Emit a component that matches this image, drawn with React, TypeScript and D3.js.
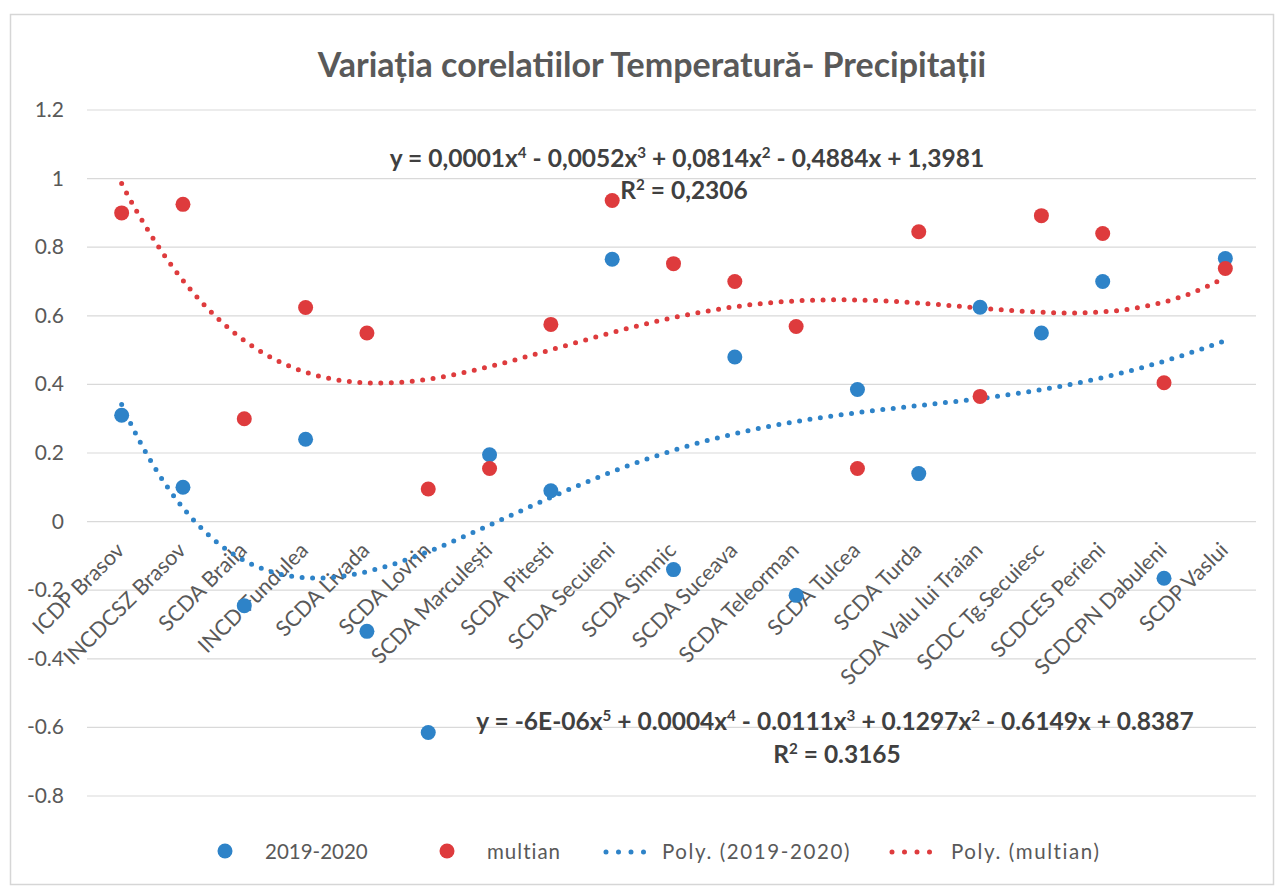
import React, { useEffect, useRef } from "react";
import * as d3 from "d3";

const categories = [
  "ICDP Brasov", "INCDCSZ Brasov", "SCDA Braila", "INCD Fundulea", "SCDA Livada",
  "SCDA Lovrin", "SCDA Marculești", "SCDA Pitesti", "SCDA Secuieni", "SCDA Simnic",
  "SCDA Suceava", "SCDA Teleorman", "SCDA Tulcea", "SCDA Turda", "SCDA Valu lui Traian",
  "SCDC Tg.Secuiesc", "SCDCES Perieni", "SCDCPN Dabuleni", "SCDP Vaslui",
];
const values2019 = [
  0.31, 0.1, -0.245, 0.24, -0.32, -0.615, 0.195, 0.09, 0.765, -0.14,
  0.48, -0.215, 0.385, 0.14, 0.625, 0.55, 0.7, -0.165, 0.767,
];
const valuesMultian = [
  0.9, 0.925, 0.3, 0.624, 0.55, 0.095, 0.155, 0.575, 0.936, 0.752,
  0.7, 0.569, 0.155, 0.845, 0.365, 0.892, 0.84, 0.405, 0.738,
];
const yTicks = [1.2, 1, 0.8, 0.6, 0.4, 0.2, 0, -0.2, -0.4, -0.6, -0.8];
const title = "Variația corelatiilor Temperatură- Precipitații";
const eqMultian = "y = 0,0001x^4 - 0,0052x^3 + 0,0814x^2 - 0,4884x + 1,3981";
const r2Multian = "R^2 = 0,2306";
const eq2019 = "y = -6E-06x^5 + 0.0004x^4 - 0.0111x^3 + 0.1297x^2 - 0.6149x + 0.8387";
const r2_2019 = "R^2 = 0.3165";
const legendLabels = ["2019-2020", "multian", "Poly. (2019-2020)", "Poly. (multian)"];

const BLUE = "#2e83c8";
const RED = "#de3b3d";
const FONT = "Lato, 'Open Sans', sans-serif";

// least squares polynomial fit, like Excel's trendline
function polyFit(xs: number[], ys: number[], deg: number) {
  const n = deg + 1;
  const A: number[][] = [];
  for (let r = 0; r < n; r++) {
    const row: number[] = [];
    for (let c = 0; c < n; c++) row.push(d3.sum(xs, (x) => Math.pow(x, r + c)));
    row.push(d3.sum(xs, (x, i) => Math.pow(x, r) * ys[i]));
    A.push(row);
  }
  for (let i = 0; i < n; i++) {
    let p = i;
    for (let k = i + 1; k < n; k++) if (Math.abs(A[k][i]) > Math.abs(A[p][i])) p = k;
    [A[i], A[p]] = [A[p], A[i]];
    for (let k = i + 1; k < n; k++) {
      const f = A[k][i] / A[i][i];
      for (let c = i; c <= n; c++) A[k][c] -= f * A[i][c];
    }
  }
  const coef = new Array(n).fill(0);
  for (let i = n - 1; i >= 0; i--) {
    let s = A[i][n];
    for (let c = i + 1; c < n; c++) s -= A[i][c] * coef[c];
    coef[i] = s / A[i][i];
  }
  return (x: number) => coef.reduce((acc, c, i) => acc + c * Math.pow(x, i), 0);
}

// text with ^n superscripts
function superText(sel: any, str: string) {
  const parts = str.split(/\^(\d)/);
  parts.forEach((p, i) => {
    if (i % 2 === 1) {
      sel.append("tspan").attr("dy", -9).attr("font-size", "0.62em").text(p);
    } else if (p) {
      sel.append("tspan").attr("dy", i > 0 ? 9 : 0).text(p);
    }
  });
}

function App() {
  const svgRef = useRef(null);
  const [width, height] = [1276, 891];
  const margin = { top: 110, right: 20, bottom: 95, left: 91 };

  useEffect(() => {
    const svg = d3.select(svgRef.current);
    svg.selectAll("*").remove();

    const x = d3
      .scaleBand()
      .domain(categories)
      .range([margin.left, width - margin.right]);
    const cx = (c: string) => (x(c) as number) + x.bandwidth() / 2;
    const y = d3.scaleLinear().domain([-0.8, 1.2]).range([height - margin.bottom, margin.top]);

    // chart frame
    svg
      .append("rect")
      .attr("x", 10.5)
      .attr("y", 14.5)
      .attr("width", 1263)
      .attr("height", 870)
      .attr("fill", "#fff")
      .attr("stroke", "#d6d6d6")
      .attr("stroke-width", 1.5);

    // gridlines
    svg
      .append("g")
      .selectAll("line")
      .data(yTicks)
      .join("line")
      .attr("x1", margin.left - 4)
      .attr("x2", width - margin.right)
      .attr("y1", (d) => y(d))
      .attr("y2", (d) => y(d))
      .attr("stroke", "#d9d9d9")
      .attr("stroke-width", 1.2);

    svg
      .append("g")
      .selectAll("text")
      .data(yTicks)
      .join("text")
      .attr("x", 64)
      .attr("y", (d) => y(d) + 7)
      .attr("text-anchor", "end")
      .attr("font-family", FONT)
      .attr("font-size", 21)
      .attr("fill", "#595959")
      .text((d) => String(d));

    // category labels along the zero line
    svg
      .append("g")
      .selectAll("text")
      .data(categories)
      .join("text")
      .attr("transform", (d) => `translate(${cx(d) + 4},${y(0) + 30}) rotate(-45)`)
      .attr("text-anchor", "end")
      .attr("font-family", FONT)
      .attr("font-size", 21.5)
      .attr("fill", "#595959")
      .text((d) => d);

    // trendlines
    const xs = categories.map((_, i) => i + 1);
    const xLin = d3
      .scaleLinear()
      .domain([1, categories.length])
      .range([cx(categories[0]), cx(categories[categories.length - 1])]);
    const samples = d3.range(1, categories.length + 0.001, 0.05);
    const trends = [
      { f: polyFit(xs, values2019, 5), color: BLUE },
      { f: polyFit(xs, valuesMultian, 4), color: RED },
    ];
    const line = d3
      .line<number>()
      .x((t) => xLin(t))
      .y((t) => y(t));
    trends.forEach((t) => {
      svg
        .append("path")
        .attr("d", line.y((s) => y(t.f(s)))(samples))
        .attr("fill", "none")
        .attr("stroke", t.color)
        .attr("stroke-width", 5)
        .attr("stroke-linecap", "round")
        .attr("stroke-dasharray", "0 10.5");
    });

    // points
    const series = [
      { values: values2019, color: BLUE },
      { values: valuesMultian, color: RED },
    ];
    series.forEach((s) => {
      svg
        .append("g")
        .selectAll("circle")
        .data(s.values)
        .join("circle")
        .attr("cx", (_, i) => cx(categories[i]))
        .attr("cy", (d) => y(d))
        .attr("r", 7.5)
        .attr("fill", s.color);
    });

    // title
    svg
      .append("text")
      .attr("x", 652)
      .attr("y", 77)
      .attr("text-anchor", "middle")
      .attr("font-family", FONT)
      .attr("font-weight", "bold")
      .attr("font-size", 34)
      .attr("fill", "#595959")
      .text(title);

    // trendline equations
    const labels = [
      { text: eqMultian, x: 687, y: 167 },
      { text: r2Multian, x: 684, y: 199 },
      { text: eq2019, x: 835, y: 730 },
      { text: r2_2019, x: 837, y: 763 },
    ];
    labels.forEach((l) => {
      const t = svg
        .append("text")
        .attr("x", l.x)
        .attr("y", l.y)
        .attr("text-anchor", "middle")
        .attr("font-family", FONT)
        .attr("font-weight", "bold")
        .attr("font-size", 24.5)
        .attr("fill", "#404040");
      superText(t, l.text);
    });

    // legend
    const lg = svg.append("g").attr("font-family", FONT).attr("font-size", 20.5).attr("fill", "#595959");
    lg.append("circle").attr("cx", 225).attr("cy", 851).attr("r", 7.5).attr("fill", BLUE);
    lg.append("text").attr("x", 265).attr("y", 859).text(legendLabels[0]);
    lg.append("circle").attr("cx", 447).attr("cy", 851).attr("r", 7.5).attr("fill", RED);
    lg.append("text").attr("x", 487).attr("y", 859).attr("letter-spacing", 1).text(legendLabels[1]);
    [
      { x0: 606, color: BLUE, tx: 662, label: legendLabels[2] },
      { x0: 892, color: RED, tx: 951, label: legendLabels[3] },
    ].forEach((e) => {
      lg.append("line")
        .attr("x1", e.x0)
        .attr("x2", e.x0 + 50)
        .attr("y1", 852)
        .attr("y2", 852)
        .attr("stroke", e.color)
        .attr("stroke-width", 5)
        .attr("stroke-linecap", "round")
        .attr("stroke-dasharray", "0 12.5");
      lg.append("text").attr("x", e.tx).attr("y", 859).attr("letter-spacing", 1.6).text(e.label);
    });
  }, []);

  return (
    <div>
      <svg
        ref={svgRef}
        width={width}
        height={height}
        style={{ position: "absolute", left: 0, top: 0 }}
      ></svg>
    </div>
  );
}

export default App;
